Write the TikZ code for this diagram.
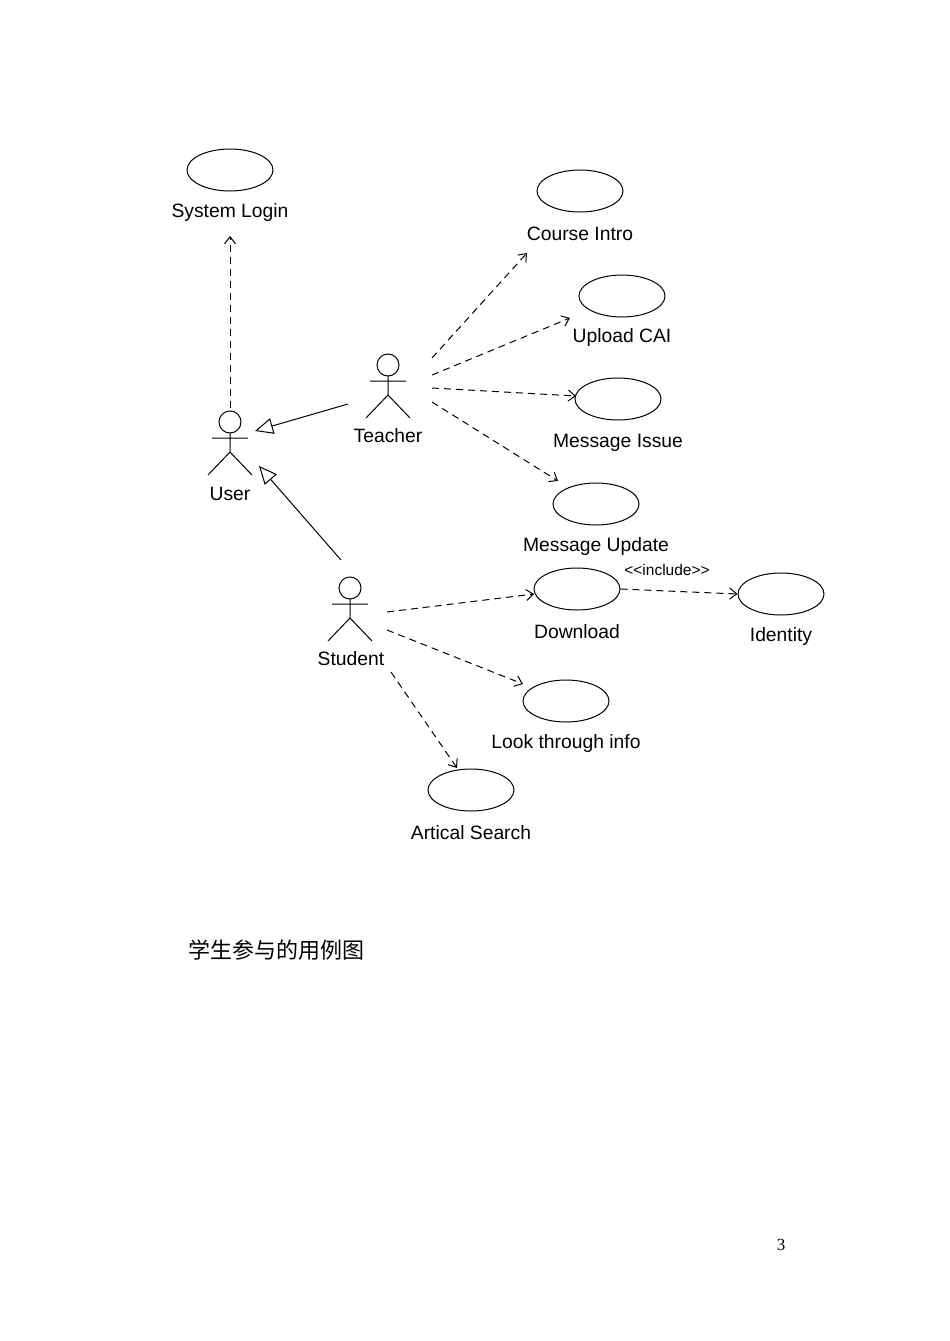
\documentclass[tikz,border=0pt]{standalone}
\usepackage{fontspec}
\setmainfont{Liberation Sans}
\newfontfamily\cjk{Noto Sans CJK SC}
\newfontfamily\serifnum{Liberation Serif}
\usetikzlibrary{arrows.meta,shapes.geometric}
\tikzset{
  uc/.style={draw,ellipse,minimum width=86pt,minimum height=42pt,inner sep=0pt,line width=1pt},
  lbl/.style={font=\fontsize{19.3pt}{21pt}\selectfont,inner sep=0pt},
  dep/.style={draw,dashed,dash pattern=on 7pt off 5pt,-{Straight Barb[length=7pt,width=11pt]},line width=1pt},
  gen/.style={draw,-{Triangle[open,length=18pt,width=16pt]},line width=1pt},
}
\newcommand{\actor}[3]{% name, x, y(head center)
  \draw[line width=1pt] (#2,#3) circle (11pt);
  \draw[line width=1pt] (#2,#3-11) -- (#2,#3-30) (#2-18,#3-16) -- (#2+18,#3-16)
    (#2-22,#3-53) -- (#2,#3-30) -- (#2+22,#3-53);
  \coordinate (#1) at (#2,#3-30);
}
\begin{document}
\begin{tikzpicture}[x=1pt,y=1pt]
\useasboundingbox (0,0) rectangle (950,-1341);
\fill[white] (0,0) rectangle (950,-1341);
\actor{user}{230}{-422}
\actor{teacher}{388}{-365}
\actor{student}{350}{-588}
\node[lbl] (luser) at (230,-494) {User};
\node[lbl] (lteacher) at (388,-436) {Teacher};
\node[lbl] (lstudent) at (351,-659) {Student};
\node[uc] (login) at (230,-170) {};
\node[lbl] at (230,-213) {System Login};
\node[uc] (course) at (580,-191) {};
\node[lbl] at (580,-234) {Course Intro};
\node[uc] (upload) at (622,-296) {};
\node[lbl] at (622,-338) {Upload CAI};
\node[uc] (issue) at (618,-399) {};
\node[lbl] at (618,-443) {Message Issue};
\node[uc] (update) at (596,-504) {};
\node[lbl] at (596,-547) {Message Update};
\node[uc] (download) at (577,-589) {};
\node[lbl] at (577,-632) {Download};
\node[uc] (identity) at (781,-594) {};
\node[lbl] at (781,-637) {Identity};
\node[uc] (look) at (566,-701) {};
\node[lbl] at (566,-744) {Look through info};
\node[uc] (search) at (471,-790) {};
\node[lbl] at (471,-833) {Artical Search};
\coordinate (u1) at (230,-408);
\coordinate (lg) at (230,-236);
\draw[dep] (u1) -- (lg);
\coordinate (t1) at (432,-358); \coordinate (t1e) at (527,-253);
\coordinate (t2) at (432,-375); \coordinate (t2e) at (570,-318);
\coordinate (t3) at (432,-388); \coordinate (t3e) at (576,-396);
\coordinate (t4) at (432,-402); \coordinate (t4e) at (558,-481);
\draw[dep] (t1) -- (t1e);
\draw[dep] (t2) -- (t2e);
\draw[dep] (t3) -- (t3e);
\draw[dep] (t4) -- (t4e);
\coordinate (s1) at (387,-612); \coordinate (s1e) at (534,-594);
\coordinate (s2) at (387,-630); \coordinate (s2e) at (523,-684);
\coordinate (s3) at (391,-672); \coordinate (s3e) at (457,-768);
\draw[dep] (s1) -- (s1e);
\draw[dep] (s2) -- (s2e);
\draw[dep] (s3) -- (s3e);
\draw[dep] (download.east) -- (identity.west);
\node[font=\fontsize{15.5pt}{16pt}\selectfont] at (667,-570) {<{}<include>{}>};
\coordinate (g1) at (348,-404); \coordinate (g1e) at (255,-431);
\coordinate (g2) at (341,-560); \coordinate (g2e) at (259,-466);
\draw[gen] (g1) -- (g1e);
\draw[gen] (g2) -- (g2e);
\node[anchor=west,font=\cjk\fontsize{22pt}{24pt}\selectfont,inner sep=0pt] (cap) at (188,-950) {学生参与的用例图};
\node[font=\serifnum\fontsize{17pt}{18pt}\selectfont] (pg) at (781,-1245) {3};
\end{tikzpicture}
\end{document}
